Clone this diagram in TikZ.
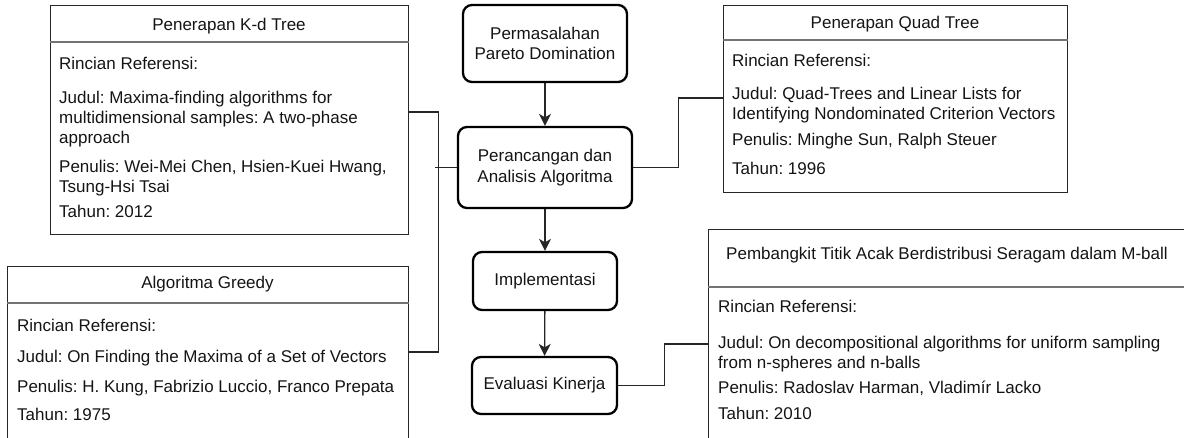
\documentclass[tikz,border=0pt]{standalone}
\usepackage{fontspec}
\setmainfont{Liberation Sans}
\usetikzlibrary{arrows.meta}
\begin{document}
\begin{tikzpicture}[x=1pt,y=-1pt,
  every node/.style={font=\fontsize{17}{20.5}\selectfont\frenchspacing, text=black!92},
  refbox/.style={draw=black!85, line width=1.4pt, inner sep=0pt, anchor=north west},
  stage/.style={draw=black, line width=2.3pt, rounded corners=9pt, inner sep=0pt, align=center},
  ln/.style={anchor=base west, inner sep=0pt},
  ttl/.style={anchor=base, inner sep=0pt},
  sep/.style={draw=black!55, line width=1.1pt},
  link/.style={draw=black!85, line width=1.3pt},
  flow/.style={link, -{Stealth[length=12pt,width=12pt,inset=3.5pt]}},
]
\useasboundingbox (0,0) rectangle (1184,437);
\clip (0,0) rectangle (1184,437);

% ---- process stages ----
\node[stage, minimum width=164pt, minimum height=77pt] (prob)   at (545,43.5)  {Permasalahan\\Pareto Domination};
\node[stage, minimum width=174pt, minimum height=81pt] (design) at (545,167.5) {Perancangan dan\\Analisis Algoritma};
\node[stage, minimum width=144pt, minimum height=58pt] (impl)   at (545,281)   {Implementasi};
\node[stage, minimum width=145pt, minimum height=57pt] (eval)   at (544.5,385.5) {Evaluasi Kinerja};

\draw[flow] (prob) -- (design);
\draw[flow] (design) -- (impl);
\draw[flow] (impl) -- (eval);

% ---- reference: K-d tree ----
\node[refbox, minimum width=358pt, minimum height=229pt] (kd) at (50,5) {};
\draw[sep] (kd.west |- 0,42) -- (kd.east |- 0,42);
\node[ttl] (kdT) at (229,30) {Penerapan K-d Tree};
\node[ln] (kd1) at (59,69)  {Rincian Referensi:};
\node[ln] (kd2) at (59,103) {Judul: Maxima-finding algorithms for};
\node[ln] (kd3) at (59,123) {multidimensional samples: A two-phase};
\node[ln] (kd4) at (59,143) {approach};
\node[ln] (kd5) at (59,172) {Penulis: Wei-Mei Chen, Hsien-Kuei Hwang,};
\node[ln] (kd6) at (59,192) {Tsung-Hsi Tsai};
\node[ln] (kd7) at (59,217) {Tahun: 2012};

% ---- reference: greedy ----
\node[refbox, minimum width=401pt, minimum height=200pt] (gr) at (7,266) {};
\draw[sep] (gr.west |- 0,303) -- (gr.east |- 0,303);
\node[ttl] (grT) at (207.5,288) {Algoritma Greedy};
\node[ln] (gr1) at (17,331) {Rincian Referensi:};
\node[ln] (gr2) at (17,362) {Judul: On Finding the Maxima of a Set of Vectors};
\node[ln] (gr3) at (17,392) {Penulis: H. Kung, Fabrizio Luccio, Franco Prepata};
\node[ln] (gr4) at (17,420) {Tahun: 1975};

% ---- reference: quad tree ----
\node[refbox, minimum width=344pt, minimum height=187pt] (quad) at (723,5) {};
\draw[sep] (quad.west |- 0,40) -- (quad.east |- 0,40);
\node[ttl] (qdT) at (895,28) {Penerapan Quad Tree};
\node[ln] (qd1) at (732,66)  {Rincian Referensi:};
\node[ln] (qd2) at (732,99)  {Judul: Quad-Trees and Linear Lists for};
\node[ln] (qd3) at (732,119) {Identifying Nondominated Criterion Vectors};
\node[ln] (qd4) at (732,145) {Penulis: Minghe Sun, Ralph Steuer};
\node[ln] (qd5) at (732,174) {Tahun: 1996};

% ---- reference: uniform sampling in an M-ball ----
\node[refbox, minimum width=478pt, minimum height=240pt] (mb) at (708,229) {};
\draw[sep] (mb.west |- 0,287) -- (mb.east |- 0,287);
\node[ttl] (mbT) at (947,259) {Pembangkit Titik Acak Berdistribusi Seragam dalam M-ball};
\node[ln] (mb1) at (718,312) {Rincian Referensi:};
\node[ln] (mb2) at (718,348) {Judul: On decompositional algorithms for uniform sampling};
\node[ln] (mb3) at (718,368) {from n-spheres and n-balls};
\node[ln] (mb4) at (718,393) {Penulis: Radoslav Harman, Vladimír Lacko};
\node[ln] (mb5) at (718,419) {Tahun: 2010};

% ---- links from stages to references ----
\draw[link] (kd.east |- 0,112) -- ++(29,0) |- (gr.east |- 0,352);
\draw[link] (design.west) -- ++(-22,0);
\draw[link] (design.east) -- ++(45,0) |- (quad.west |- 0,98);
\draw[link] (eval.east) -- ++(46,0) |- (mb.west |- 0,344);
\end{tikzpicture}
\end{document}
